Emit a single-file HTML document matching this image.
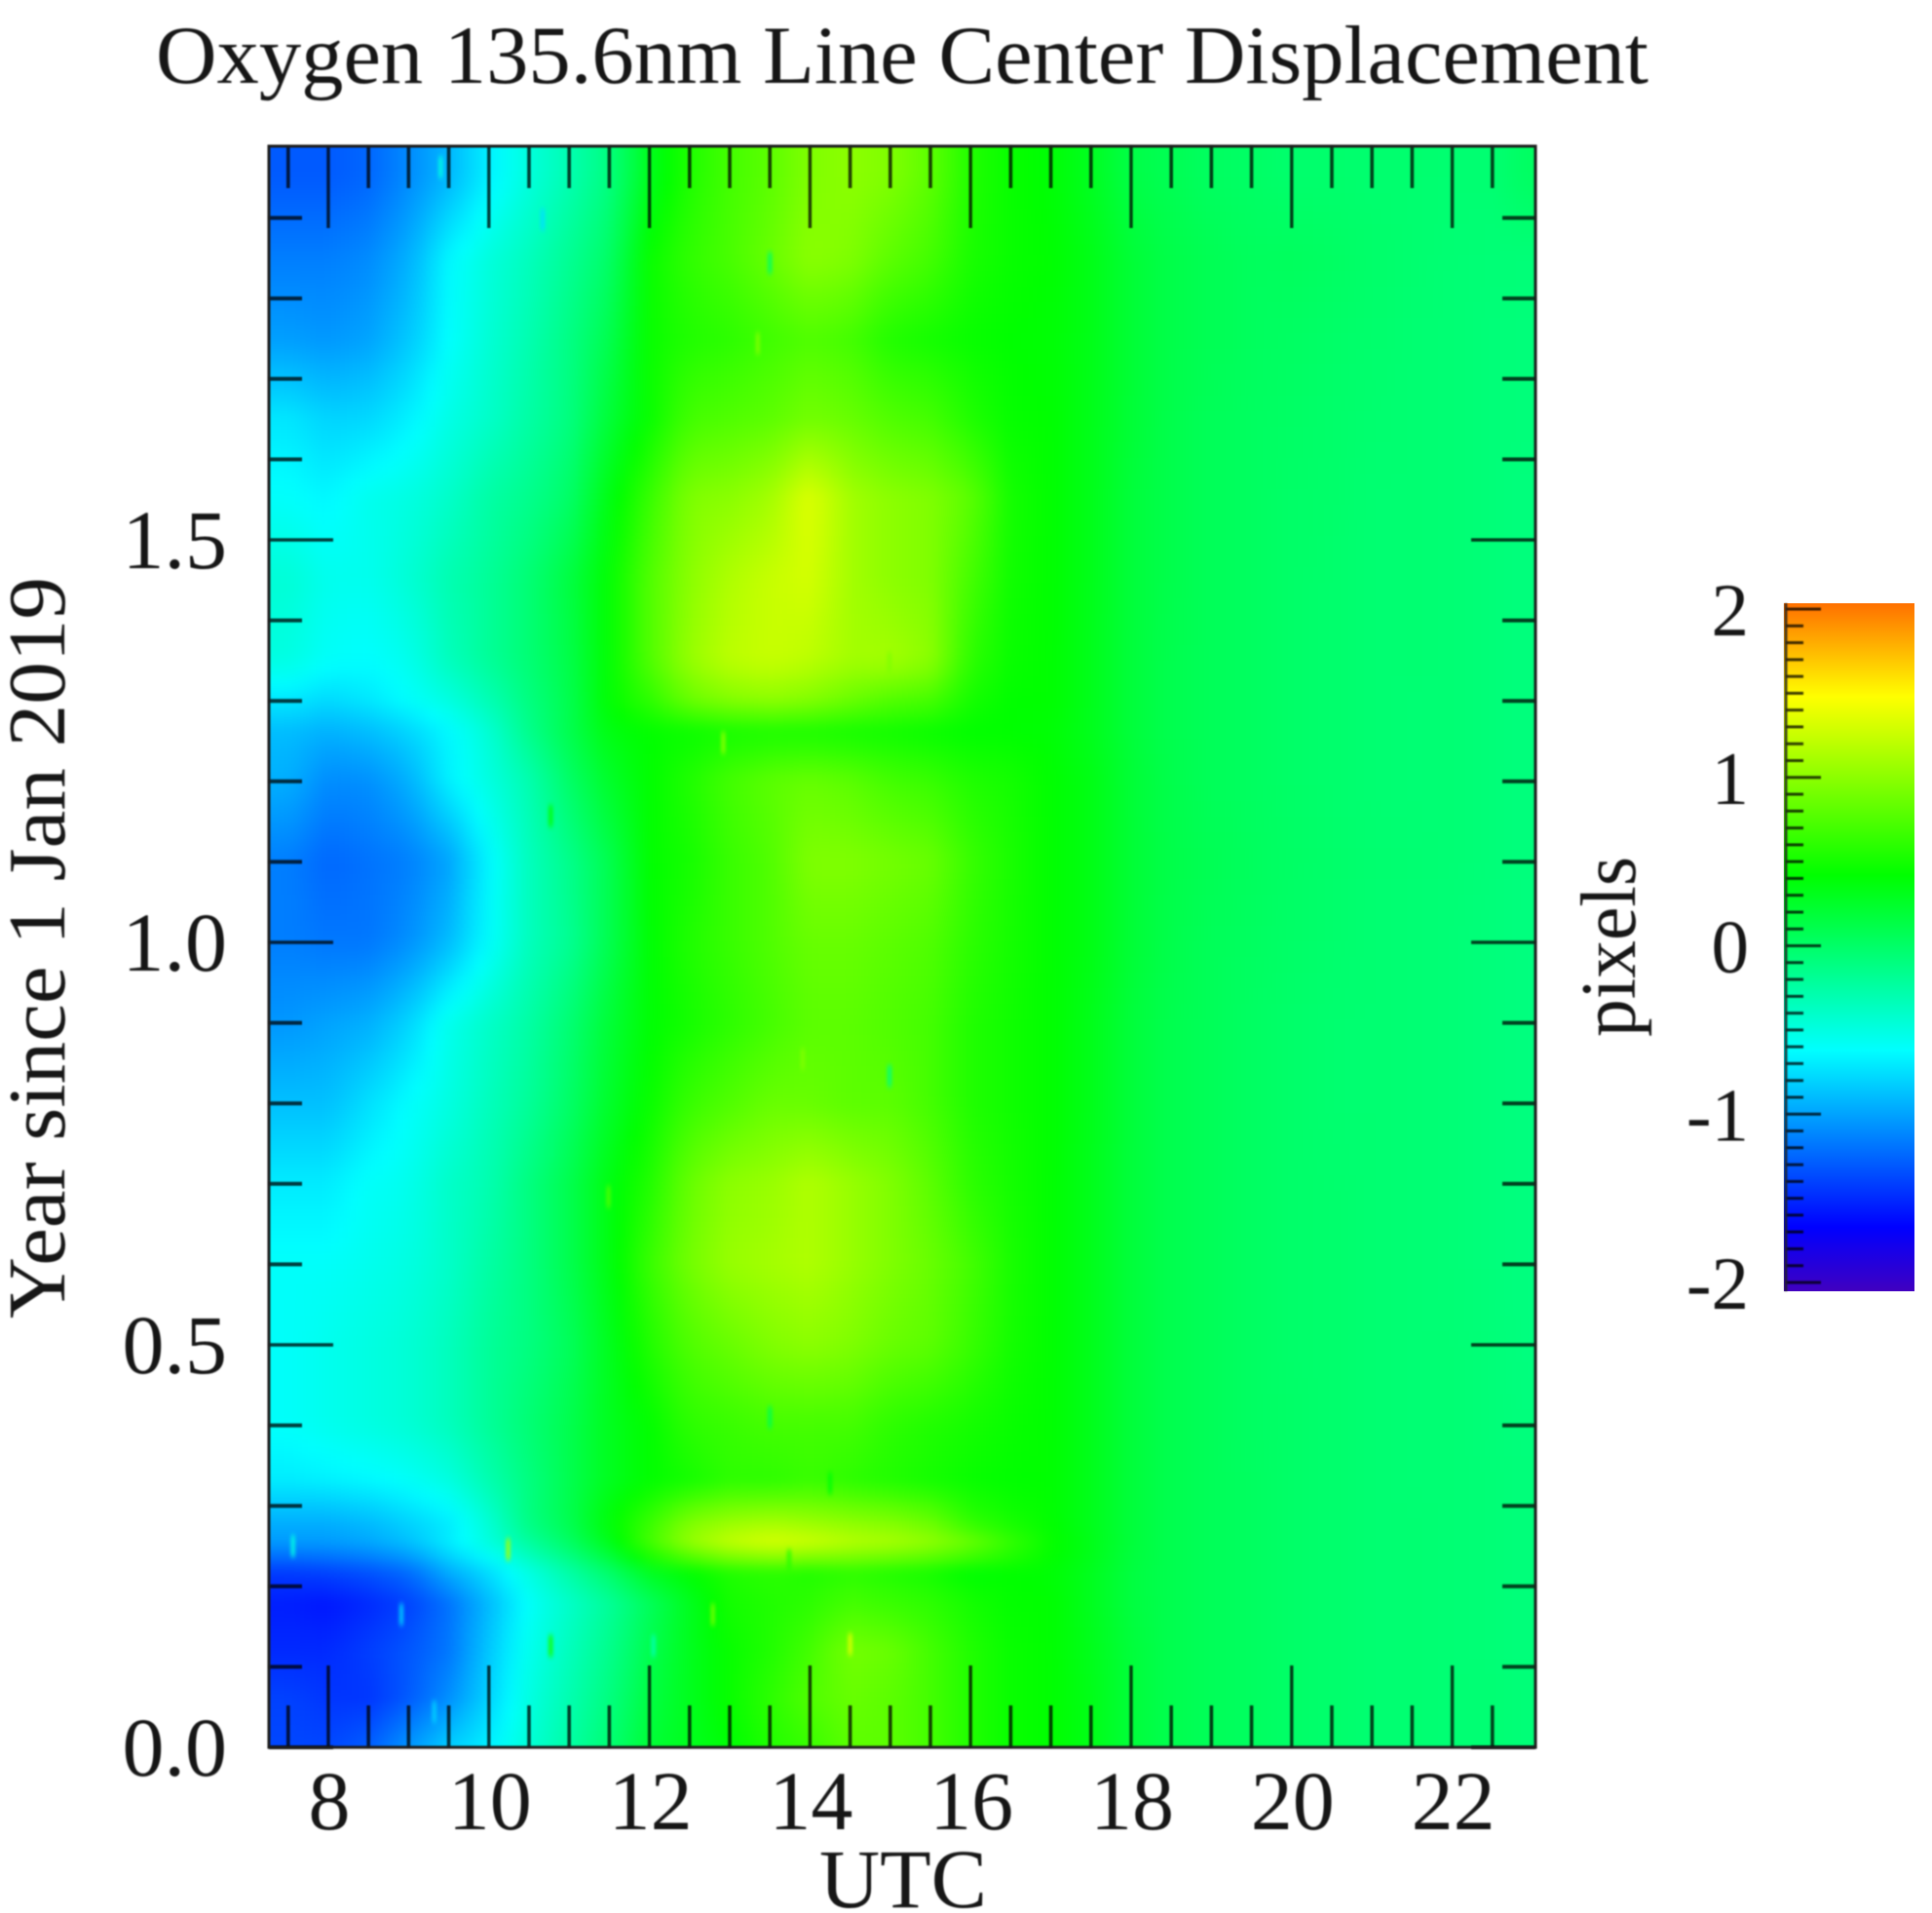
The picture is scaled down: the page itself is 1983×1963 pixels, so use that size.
<!DOCTYPE html>
<html lang="en">
<head>
<meta charset="utf-8">
<title>Oxygen 135.6nm Line Center Displacement</title>
<style>
  html, body { margin: 0; padding: 0; background: #fff; }
  svg { display: block; }
  text { font-family: "Liberation Serif", serif; fill: #161616; }
  .soft { filter: blur(0.8px); }
</style>
</head>
<body>
<svg id="chart" xmlns="http://www.w3.org/2000/svg" width="1983" height="1963" viewBox="0 0 1983 1963">
  <defs>
    <clipPath id="plot-clip"><rect x="276" y="150" width="1300" height="1643"></rect></clipPath>
    <filter id="smooth" filterUnits="userSpaceOnUse" x="200" y="80" width="1460" height="1790" color-interpolation-filters="sRGB">
      <feGaussianBlur stdDeviation="7"></feGaussianBlur>
    </filter>
    <filter id="speck-soft" filterUnits="userSpaceOnUse" x="200" y="80" width="1460" height="1790" color-interpolation-filters="sRGB">
      <feGaussianBlur stdDeviation="1.6 3"></feGaussianBlur>
    </filter>
    <linearGradient id="colorbar-gradient" x1="0" y1="1" x2="0" y2="0"></linearGradient>
  </defs>
  <g clip-path="url(#plot-clip)">
    <g id="cells" filter="url(#smooth)"></g>
    <g id="specks" filter="url(#speck-soft)" opacity="0.75"></g>
  </g>
  <g id="ticks" class="soft"></g>
  <rect class="soft" x="276" y="150" width="1300" height="1643" fill="none" stroke="#1c1c1c" stroke-width="3"></rect>
  <g class="soft">
    <text x="160" y="85" font-size="85" textLength="1532" lengthAdjust="spacingAndGlyphs">Oxygen 135.6nm Line Center Displacement</text>
    <g id="x-labels"></g>
    <g id="y-labels"></g>
    <text x="927" y="1957" font-size="86" text-anchor="middle">UTC</text>
    <text transform="translate(66,1353) rotate(-90)" font-size="84" textLength="761" lengthAdjust="spacingAndGlyphs">Year since 1 Jan 2019</text>
    <text transform="translate(1678,1064) rotate(-90)" font-size="80" textLength="185" lengthAdjust="spacingAndGlyphs">pixels</text>
    <g id="cb-labels"></g>
  </g>
  <g>
    <rect id="cb-rect" x="1831" y="619" width="134" height="706" fill="url(#colorbar-gradient)"></rect>
    <g id="cb-ticks" class="soft"></g>
    <line class="soft" x1="1833" y1="619" x2="1833" y2="1325" stroke="#222" stroke-width="3" stroke-opacity="0.8"></line>
  </g>
</svg>
<script>
const hours = [7.5,8,8.5,9,9.5,10,10.5,11,11.5,12,12.5,13,13.5,14,14.5,15,15.5,16,16.5,17,17.5,18,18.5,19,19.5,20,20.5,21,21.5,22,22.5,23];
const years = [0,0.06,0.12,0.18,0.22,0.25,0.28,0.33,0.4,0.5,0.6,0.7,0.8,0.9,1.0,1.1,1.2,1.26,1.3,1.35,1.45,1.55,1.65,1.75,1.85,1.95];
const displacement = [
  [-1.38,-1.38,-1.28,-1.05,-.82,-.68,-.45,-.25,-.05,.2,.3,.4,.55,.65,.8,.8,.7,.55,.45,.42,.33,.18,.1,.06,.03,0,-.02,-.04,-.04,-.05,-.05,-.07],
  [-1.4,-1.45,-1.45,-1.3,-1.08,-.8,-.5,-.3,-.1,.15,.3,.45,.6,.75,.85,.8,.7,.55,.45,.42,.33,.18,.1,.06,.03,0,-.02,-.04,-.04,-.05,-.05,-.07],
  [-1.5,-1.5,-1.42,-1.32,-1.18,-.85,-.55,-.35,-.15,.1,.3,.45,.55,.7,.9,.85,.7,.55,.45,.42,.31,.18,.1,.06,.03,0,-.02,-.04,-.04,-.05,-.06,-.08],
  [-1.55,-1.58,-1.5,-1.4,-1.2,-.9,-.6,-.4,-.2,.05,.3,.5,.55,.6,.7,.65,.6,.5,.43,.42,.3,.16,.1,.06,.03,0,-.02,-.04,-.04,-.05,-.06,-.08],
  [-1.42,-1.38,-1.32,-1.22,-.95,-.75,-.5,-.25,0,.3,.42,.55,.6,.55,.6,.55,.5,.4,.42,.4,.3,.16,.1,.06,.03,0,-.02,-.04,-.04,-.05,-.06,-.08],
  [-1.05,-1.05,-1,-.9,-.7,-.5,-.25,0,.3,.7,1.05,1.25,1.35,1.3,1.2,1.15,1.05,.9,.65,.45,.33,.18,.1,.06,.03,0,-.02,-.04,-.04,-.05,-.06,-.08],
  [-.95,-.95,-.9,-.8,-.7,-.45,-.1,.1,.4,.65,.95,1.05,1.1,1.05,1,.95,.85,.6,.5,.42,.31,.18,.1,.06,.03,0,-.02,-.04,-.04,-.05,-.06,-.08],
  [-.7,-.68,-.65,-.6,-.5,-.3,-.1,.1,.3,.42,.5,.6,.6,.65,.6,.55,.5,.45,.42,.42,.31,.18,.1,.06,.03,0,-.02,-.04,-.05,-.05,-.06,-.08],
  [-.6,-.55,-.5,-.45,-.35,-.2,-.05,.1,.3,.42,.6,.65,.7,.7,.7,.6,.55,.5,.45,.42,.31,.18,.1,.06,.02,0,-.02,-.04,-.05,-.05,-.07,-.09],
  [-.6,-.55,-.5,-.45,-.35,-.2,-.1,.05,.3,.55,.75,.85,.95,1,.95,.85,.8,.65,.5,.42,.31,.18,.1,.06,.02,-.01,-.02,-.04,-.05,-.05,-.07,-.1],
  [-.6,-.6,-.55,-.5,-.4,-.25,-.1,.1,.35,.65,.9,1.05,1.1,1.15,1.05,.95,.85,.7,.52,.42,.31,.18,.1,.06,.02,-.01,-.02,-.04,-.05,-.06,-.08,-.1],
  [-.7,-.7,-.6,-.55,-.4,-.3,-.1,.1,.35,.55,.85,1,1.05,1.15,1.05,.95,.8,.6,.5,.42,.31,.18,.1,.06,.02,-.01,-.02,-.04,-.05,-.06,-.08,-.1],
  [-.88,-.88,-.75,-.62,-.5,-.35,-.2,0,.25,.45,.65,.75,.85,.85,.8,.8,.7,.55,.48,.42,.32,.18,.1,.06,.02,-.01,-.03,-.04,-.05,-.06,-.08,-.1],
  [-1.05,-1,-.95,-.8,-.55,-.4,-.25,-.05,.2,.4,.5,.6,.7,.8,.8,.75,.7,.55,.48,.42,.32,.18,.1,.06,.02,-.01,-.03,-.04,-.05,-.06,-.08,-.1],
  [-1.15,-1.18,-1.18,-1.08,-.9,-.62,-.35,-.18,.1,.4,.55,.65,.75,.85,.85,.8,.75,.6,.5,.42,.34,.2,.11,.06,.03,0,-.02,-.04,-.05,-.06,-.08,-.1],
  [-1.15,-1.25,-1.2,-1.15,-1,-.65,-.35,-.15,.1,.42,.5,.65,.75,.95,.95,.9,.85,.65,.52,.42,.34,.2,.12,.08,.04,.01,-.01,-.03,-.04,-.05,-.07,-.09],
  [-.95,-1.1,-1.08,-.95,-.68,-.5,-.3,0,.25,.42,.55,.7,.8,.85,.8,.7,.65,.55,.5,.42,.34,.2,.11,.06,.03,0,-.02,-.04,-.05,-.05,-.07,-.09],
  [-.9,-.95,-.9,-.8,-.65,-.45,-.15,.1,.35,.42,.45,.5,.52,.52,.5,.48,.45,.42,.42,.4,.31,.18,.1,.06,.03,0,-.02,-.04,-.05,-.05,-.07,-.09],
  [-.72,-.78,-.72,-.62,-.5,-.32,-.1,.1,.42,.6,.85,.95,1,.95,.85,.75,.7,.5,.42,.42,.31,.18,.1,.06,.03,0,-.02,-.04,-.05,-.05,-.07,-.09],
  [-.5,-.6,-.62,-.55,-.35,-.2,-.05,.12,.42,.75,1.05,1.2,1.25,1.2,1.1,1.1,1,.6,.45,.42,.31,.18,.1,.06,.03,0,-.02,-.04,-.04,-.05,-.07,-.09],
  [-.45,-.55,-.55,-.45,-.3,-.2,-.05,.15,.42,.75,1,1.15,1.25,1.3,1.1,1,.95,.7,.48,.42,.32,.18,.11,.06,.03,0,-.02,-.04,-.04,-.05,-.07,-.09],
  [-.6,-.65,-.55,-.5,-.4,-.25,-.15,0,.35,.65,.95,1,1.1,1.35,1.1,1,.95,.8,.5,.42,.32,.18,.11,.06,.03,0,-.01,-.04,-.04,-.05,-.07,-.09],
  [-.72,-.8,-.78,-.68,-.52,-.4,-.25,-.1,.2,.45,.7,.75,.8,.9,.85,.75,.7,.55,.44,.42,.32,.2,.11,.06,.03,.01,-.01,-.03,-.04,-.05,-.07,-.08],
  [-1.02,-1.05,-1,-.85,-.62,-.45,-.3,-.12,.1,.45,.55,.6,.68,.75,.7,.55,.5,.45,.42,.4,.33,.2,.12,.08,.04,.02,0,-.02,-.04,-.05,-.07,-.08],
  [-1.15,-1.15,-1.1,-.95,-.65,-.48,-.35,-.18,0,.45,.62,.72,.85,1,.95,.8,.7,.52,.45,.42,.33,.2,.12,.08,.04,.04,.02,-.01,-.03,-.05,-.06,-.07],
  [-1.3,-1.3,-1.25,-1.1,-.92,-.68,-.48,-.3,-.1,.3,.55,.7,.8,.95,1,.95,.8,.55,.45,.4,.29,.13,.08,.03,.01,-.02,-.02,-.03,-.03,-.04,-.04,.03]
];
const speckHours = [10.24,7.56,8.91,14.5,13.74,13.5,14.25,12.05,10.77,9.32,12.79,10.77,12.92,11.49,14.99,13.91,10.77,10.67,13.5,13.35,9.4,14.99];
const speckYears = [0.246,0.25,0.165,0.128,0.232,0.41,0.328,0.126,0.126,0.044,0.165,1.157,1.248,0.684,0.834,0.855,0.745,1.898,1.844,1.744,1.963,1.347];
const speckValues = [1.1,-.5,-.8,1.35,.6,.1,.4,-.3,.5,-.8,.9,.4,1,.75,-.1,.95,-.05,-.75,0,.95,-.5,.95];
const xMajorTicks = [8,10,12,14,16,18,20,22];
const xMinorTicks = [7.5,8.5,9,9.5,10.5,11,11.5,12.5,13,13.5,14.5,15,15.5,16.5,17,17.5,18.5,19,19.5,20.5,21,21.5,22.5];
const xTickLabels = ['8','10','12','14','16','18','20','22'];
const yMajorTicks = [0,0.5,1,1.5];
const yMinorTicks = [0.1,0.2,0.3,0.4,0.6,0.7,0.8,0.9,1.1,1.2,1.3,1.4,1.6,1.7,1.8,1.9];
const yTickLabels = ['0.0','0.5','1.0','1.5'];
const colorbarMajor = [-2,-1,0,1,2];
const colorbarLabels = ['-2','-1','0','1','2'];
const colorStopValues = [-2.05,-1.67,-0.62,0.42,1.48,2.035];
const colorStopColors = ['#4000c0','#0000ff','#00ffff','#00ff00','#ffff00','#ff7000'];

const NS = 'http://www.w3.org/2000/svg';
const xScale = h => 276 + (h - 7.26) * 82.4;
const yScale = y => 1793 - y * 826;
const cbScale = v => 970.5 - v * 172.75;
const invX = px => 7.26 + (px - 276) / 82.4;
const invY = py => (1793 - py) / 826;

function hexRgb(c) {
  return [parseInt(c.slice(1, 3), 16), parseInt(c.slice(3, 5), 16), parseInt(c.slice(5, 7), 16)];
}
function colorOf(v) {
  const s = colorStopValues;
  if (v <= s[0]) return colorStopColors[0];
  if (v >= s[s.length - 1]) return colorStopColors[s.length - 1];
  let i = 0;
  while (v > s[i + 1]) i++;
  const t = (v - s[i]) / (s[i + 1] - s[i]);
  const a = hexRgb(colorStopColors[i]);
  const b = hexRgb(colorStopColors[i + 1]);
  return 'rgb(' + Math.round(a[0] + (b[0] - a[0]) * t) + ',' + Math.round(a[1] + (b[1] - a[1]) * t) + ',' + Math.round(a[2] + (b[2] - a[2]) * t) + ')';
}
function locate(arr, v) {
  if (v <= arr[0]) return [0, 0, 0];
  if (v >= arr[arr.length - 1]) return [arr.length - 1, arr.length - 1, 0];
  let i = 0;
  while (v > arr[i + 1]) i++;
  return [i, i + 1, (v - arr[i]) / (arr[i + 1] - arr[i])];
}
function valueAt(h, y) {
  const [c0, c1, tc] = locate(hours, h);
  const [r0, r1, tr] = locate(years, y);
  const a = displacement[r0][c0] + (displacement[r0][c1] - displacement[r0][c0]) * tc;
  const b = displacement[r1][c0] + (displacement[r1][c1] - displacement[r1][c0]) * tc;
  return a + (b - a) * tr;
}

const cellGroup = document.getElementById('cells');
const cellStep = 16;
const frag = document.createDocumentFragment();
for (let py = 150 - 32; py < 1793 + 32; py += cellStep) {
  for (let px = 276 - 32; px < 1576 + 32; px += cellStep) {
    const r = document.createElementNS(NS, 'rect');
    r.setAttribute('x', px);
    r.setAttribute('y', py);
    r.setAttribute('width', cellStep + 1);
    r.setAttribute('height', cellStep + 1);
    r.setAttribute('fill', colorOf(valueAt(invX(px + cellStep / 2), invY(py + cellStep / 2))));
    
    
    frag.appendChild(r);
  }
}
cellGroup.appendChild(frag);

const speckGroup = document.getElementById('specks');
speckHours.forEach((h, i) => {
  const r = document.createElementNS(NS, 'rect');
  r.setAttribute('x', xScale(h) - 2.5);
  r.setAttribute('y', yScale(speckYears[i]) - 11);
  r.setAttribute('width', 5);
  r.setAttribute('height', 22);
  r.setAttribute('fill', colorOf(speckValues[i]));
  
  
  speckGroup.appendChild(r);
});

function tick(parent, x1, y1, x2, y2, name, width) {
  const l = document.createElementNS(NS, 'line');
  l.setAttribute('x1', x1);
  l.setAttribute('y1', y1);
  l.setAttribute('x2', x2);
  l.setAttribute('y2', y2);
  l.setAttribute('stroke', '#000');
  l.setAttribute('stroke-opacity', '0.75');
  l.setAttribute('stroke-width', width);
  
  
  parent.appendChild(l);
}
function label(parent, x, y, size, anchor, str, name) {
  const t = document.createElementNS(NS, 'text');
  t.setAttribute('x', x);
  t.setAttribute('y', y);
  t.setAttribute('font-size', size);
  t.setAttribute('text-anchor', anchor);
  
  
  t.textContent = str;
  parent.appendChild(t);
}

const tg = document.getElementById('ticks');
xMajorTicks.forEach(h => {
  tick(tg, xScale(h), 1793, xScale(h), 1793 - 84, 'x-major-tick', 3.4);
  tick(tg, xScale(h), 150, xScale(h), 150 + 84, 'x-major-tick-top', 3.4);
});
xMinorTicks.forEach(h => {
  tick(tg, xScale(h), 1793, xScale(h), 1793 - 43, 'x-minor-tick', 3.6);
  tick(tg, xScale(h), 150, xScale(h), 150 + 43, 'x-minor-tick-top', 3.6);
});
yMajorTicks.forEach(y => {
  tick(tg, 276, yScale(y), 276 + 66, yScale(y), 'y-major-tick', 3.4);
  tick(tg, 1576, yScale(y), 1576 - 66, yScale(y), 'y-major-tick-right', 3.4);
});
yMinorTicks.forEach(y => {
  tick(tg, 276, yScale(y), 276 + 34, yScale(y), 'y-minor-tick', 4);
  tick(tg, 1576, yScale(y), 1576 - 34, yScale(y), 'y-minor-tick-right', 4);
});

const xl = document.getElementById('x-labels');
xMajorTicks.forEach((h, i) => label(xl, xScale(h) + 1, 1877, 86, 'middle', xTickLabels[i], 'x-tick-label'));
const yl = document.getElementById('y-labels');
yMajorTicks.forEach((y, i) => label(yl, 233, yScale(y) + 29, 86, 'end', yTickLabels[i], 'y-tick-label'));

const grad = document.getElementById('colorbar-gradient');
const span = colorStopValues[colorStopValues.length - 1] - colorStopValues[0];
colorStopValues.forEach((v, i) => {
  const s = document.createElementNS(NS, 'stop');
  s.setAttribute('offset', (v - colorStopValues[0]) / span);
  s.setAttribute('stop-color', colorStopColors[i]);
  grad.appendChild(s);
});

const cbt = document.getElementById('cb-ticks');
for (let k = -20; k <= 20; k++) {
  const v = k / 10;
  const major = k % 10 === 0;
  tick(cbt, 1833, cbScale(v), major ? 1869 : 1851, cbScale(v), major ? 'colorbar-major-tick' : 'colorbar-minor-tick', 3);
}
const cbl = document.getElementById('cb-labels');
colorbarMajor.forEach((v, i) => label(cbl, 1795, cbScale(v) + 27, 77, 'end', colorbarLabels[i], 'colorbar-tick-label'));
</script>
</body>
</html>
